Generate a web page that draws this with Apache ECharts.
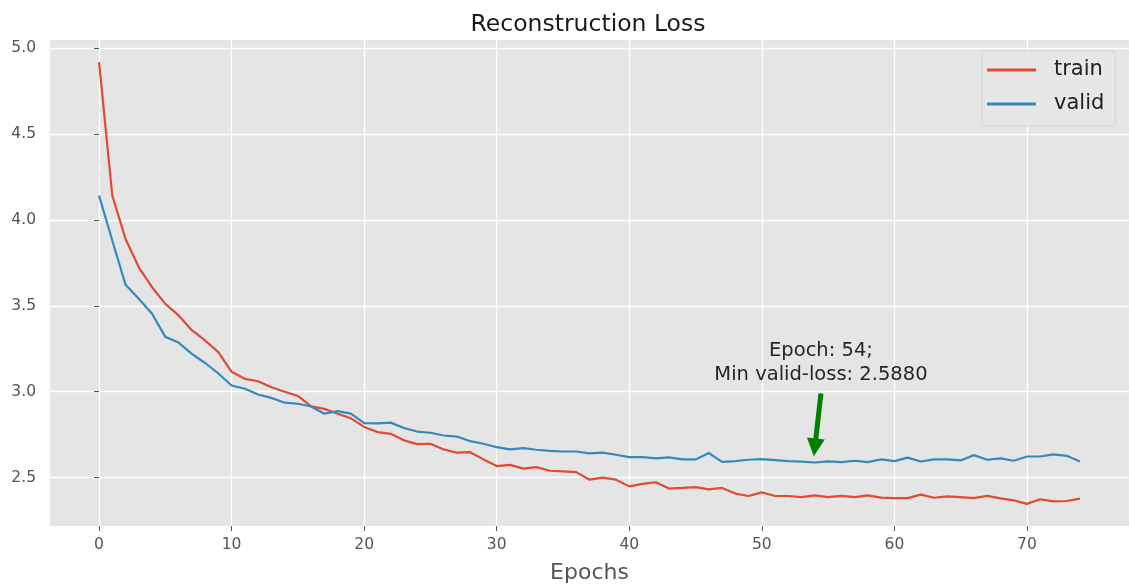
<!DOCTYPE html>
<html>
<head>
<meta charset="utf-8">
<title>Reconstruction Loss</title>
<script src="https://cdn.jsdelivr.net/npm/echarts@6/dist/echarts.min.js"></script>
<style>
  html, body { margin: 0; padding: 0; background: #ffffff; }
  #chart { width: 1129px; height: 586px; }
</style>
</head>
<body>
<div id="chart"></div>
<script>
// Per-epoch losses
const epochs = Array.from({ length: 75 }, (_, i) => i);
const trainLoss = [
  4.918, 4.141, 3.889, 3.724, 3.608, 3.511, 3.444, 3.358, 3.298, 3.230,
  3.116, 3.075, 3.061, 3.026, 3.000, 2.975, 2.915, 2.900, 2.872, 2.845,
  2.795, 2.765, 2.755, 2.717, 2.695, 2.697, 2.664, 2.645, 2.648, 2.606,
  2.567, 2.574, 2.552, 2.561, 2.540, 2.536, 2.532, 2.488, 2.500, 2.488,
  2.449, 2.464, 2.473, 2.436, 2.440, 2.445, 2.432, 2.440, 2.407, 2.393,
  2.414, 2.393, 2.393, 2.387, 2.397, 2.387, 2.394, 2.387, 2.397, 2.384,
  2.381, 2.381, 2.401, 2.383, 2.391, 2.387, 2.381, 2.394, 2.379, 2.368,
  2.347, 2.374, 2.362, 2.364, 2.378
];
const validLoss = [
  4.141, 3.880, 3.622, 3.541, 3.454, 3.319, 3.286, 3.220, 3.167, 3.106,
  3.036, 3.017, 2.984, 2.964, 2.936, 2.930, 2.914, 2.872, 2.887, 2.872,
  2.817, 2.816, 2.820, 2.789, 2.768, 2.761, 2.745, 2.739, 2.712, 2.697,
  2.677, 2.664, 2.672, 2.662, 2.656, 2.652, 2.652, 2.641, 2.645, 2.633,
  2.619, 2.619, 2.612, 2.618, 2.606, 2.606, 2.643, 2.592, 2.596, 2.604,
  2.608, 2.602, 2.596, 2.593, 2.588, 2.594, 2.590, 2.598, 2.590, 2.606,
  2.596, 2.616, 2.594, 2.606, 2.606, 2.600, 2.631, 2.604, 2.612, 2.598,
  2.623, 2.623, 2.635, 2.627, 2.594
];
const xTicks = [0, 10, 20, 30, 40, 50, 60, 70];
const yTicks = [2.5, 3.0, 3.5, 4.0, 4.5, 5.0];

// Best validation epoch, used for the annotation
let bestEpoch = 0;
validLoss.forEach((v, i) => { if (v < validLoss[bestEpoch]) bestEpoch = i; });
const bestLoss = validLoss[bestEpoch];
// annotation text anchor and arrow ends, in data units
const noteAt = [bestEpoch + 0.46, 3.17];
const arrowFrom = [bestEpoch + 0.46, 2.99];
const arrowTo = [bestEpoch, 2.676];

// Axis limits with 5% padding around the data
const allVals = trainLoss.concat(validLoss);
const yMinData = Math.min(...allVals), yMaxData = Math.max(...allVals);
const yPad = (yMaxData - yMinData) * 0.05;
const xPad = (epochs[epochs.length - 1] - epochs[0]) * 0.05;

const FONT = 'DejaVu Sans';
const TICK_COLOR = '#555555';

const chart = echarts.init(document.getElementById('chart'), null, { renderer: 'canvas' });

const axisCommon = {
  axisLine: { show: false },
  axisTick: { show: true, length: 5, lineStyle: { color: TICK_COLOR, width: 1 } },
  splitLine: { show: true, lineStyle: { color: '#ffffff', width: 1.3 } },
  axisLabel: { color: TICK_COLOR, fontFamily: FONT, fontSize: 15.5, margin: 14 }
};

chart.setOption({
  animation: false,
  backgroundColor: '#ffffff',
  title: {
    text: 'Reconstruction Loss',
    left: 583,
    textAlign: 'center',
    top: 8,
    textStyle: { fontFamily: FONT, fontSize: 23.5, fontWeight: 'normal', color: '#1a1a1a' }
  },
  grid: {
    left: 50, right: 0, top: 40, bottom: 60,
    outerBoundsMode: 'none',
    containLabel: false,
    show: true, backgroundColor: '#E5E5E5', borderWidth: 0
  },
  legend: {
    data: [
      { name: 'train', icon: 'rect' },
      { name: 'valid', icon: 'rect' }
    ],
    orient: 'vertical',
    left: 982, top: 51,
    padding: [8, 11, 11, 5],
    itemGap: 12,
    itemWidth: 49,
    itemHeight: 3,
    backgroundColor: '#E7E7E7',
    borderColor: '#D6D6D6',
    borderWidth: 1,
    borderRadius: 4,
    textStyle: { fontFamily: FONT, fontSize: 21, color: '#222222', lineHeight: 22, padding: [0, 0, 0, 13] }
  },
  xAxis: Object.assign({}, axisCommon, {
    type: 'value',
    min: epochs[0] - xPad,
    max: epochs[epochs.length - 1] + xPad,
    name: 'Epochs',
    nameLocation: 'middle',
    nameGap: 36,
    nameTextStyle: { fontFamily: FONT, fontSize: 22, color: TICK_COLOR },
    axisTick: Object.assign({}, axisCommon.axisTick, { customValues: xTicks }),
    axisLabel: Object.assign({}, axisCommon.axisLabel, { margin: 11, customValues: xTicks, formatter: v => String(v) })
  }),
  yAxis: Object.assign({}, axisCommon, {
    type: 'value',
    min: yMinData - yPad,
    max: yMaxData + yPad,
    axisTick: Object.assign({}, axisCommon.axisTick, { customValues: yTicks }),
    axisLabel: Object.assign({}, axisCommon.axisLabel, { customValues: yTicks, formatter: v => v.toFixed(1) })
  }),
  series: [
    {
      name: 'train',
      type: 'line',
      data: epochs.map((e, i) => [e, trainLoss[i]]),
      symbol: 'none',
      lineStyle: { color: '#E24A33', width: 2.2 },
      itemStyle: { color: '#E24A33' },
      z: 3
    },
    {
      name: 'valid',
      type: 'line',
      data: epochs.map((e, i) => [e, validLoss[i]]),
      symbol: 'none',
      lineStyle: { color: '#348ABD', width: 2.2 },
      itemStyle: { color: '#348ABD' },
      z: 3,
      markPoint: {
        silent: true,
        symbol: 'circle',
        symbolSize: 0,
        data: [{
          coord: noteAt,
          label: {
            show: true,
            position: 'inside',
            formatter: 'Epoch: ' + bestEpoch + ';\nMin valid-loss: ' + bestLoss.toFixed(4),
            fontFamily: FONT,
            fontSize: 19.5,
            lineHeight: 24,
            align: 'center',
            color: '#262626'
          }
        }]
      },
      markLine: {
        silent: true,
        animation: false,
        label: { show: false },
        lineStyle: { color: '#008000', width: 5, type: 'solid' },
        symbol: ['none', 'triangle'],
        symbolSize: [18, 18],
        data: [[
          { coord: arrowFrom },
          { coord: arrowTo }
        ]]
      }
    }
  ]
});
</script>
</body>
</html>
